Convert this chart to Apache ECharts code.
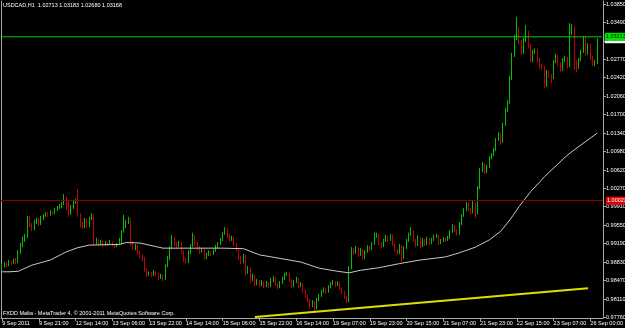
<!DOCTYPE html>
<html>
<head>
<meta charset="utf-8">
<script src="https://cdn.jsdelivr.net/npm/echarts@6/dist/echarts.min.js"></script>
<style>
html,body{margin:0;padding:0;background:#000;}
#main{width:625px;height:328px;}
</style>
</head>
<body>
<div id="main"></div>
<script>
// ---- data (USDCAD H1) ----
const titleText = 'USDCAD,H1  1.02713 1.03183 1.02680 1.03168';
const footerText = 'FXDD Malta - MetaTrader 4, \u00a9 2001-2011 MetaQuotes Software Corp.';

const xTickLabels = ['9 Sep 2011','9 Sep 21:00','12 Sep 14:00','13 Sep 06:00','13 Sep 22:00','14 Sep 14:00',
  '15 Sep 06:00','15 Sep 22:00','16 Sep 14:00','19 Sep 07:00','19 Sep 23:00','20 Sep 15:00',
  '21 Sep 07:00','21 Sep 23:00','22 Sep 15:00','23 Sep 07:00','26 Sep 00:00'];
const barsPerLabel = 16;
const emptySlots = 2;

const yTickValues = [1.0385,1.0349,1.0313,1.0277,1.0242,1.0206,1.0170,1.0134,1.0098,1.0062,
  1.0027,0.9991,0.9955,0.9919,0.9883,0.9847,0.9811,0.9776];

const openP = [
0.9871,0.9875,0.9879,0.9877,0.9883,0.9881,0.9885,0.9883,0.9903,0.9916,
0.9926,0.9934,0.9969,0.9955,0.9947,0.9961,0.9965,0.9957,0.9969,0.9973,
0.9976,0.9975,0.9980,0.9978,0.9984,0.9988,0.9992,0.9996,1.0008,1.0000,
0.9976,0.9990,0.9998,1.0002,0.9975,0.9957,0.9951,0.9965,0.9953,0.9967,
0.9973,0.9920,0.9926,0.9918,0.9922,0.9916,0.9920,0.9918,0.9922,0.9916,
0.9914,0.9918,0.9920,0.9941,0.9953,0.9961,0.9967,0.9920,0.9910,0.9914,
0.9903,0.9895,0.9891,0.9867,0.9860,0.9862,0.9858,0.9864,0.9860,0.9852,
0.9856,0.9850,0.9875,0.9891,0.9910,0.9930,0.9918,0.9914,0.9920,0.9903,
0.9887,0.9883,0.9903,0.9914,0.9934,0.9918,0.9910,0.9903,0.9906,0.9891,
0.9897,0.9903,0.9899,0.9904,0.9912,0.9918,0.9926,0.9938,0.9947,0.9934,
0.9926,0.9930,0.9918,0.9906,0.9891,0.9883,0.9895,0.9864,0.9871,0.9848,
0.9856,0.9840,0.9846,0.9838,0.9844,0.9836,0.9842,0.9836,0.9848,0.9852,
0.9840,0.9834,0.9842,0.9850,0.9858,0.9860,0.9848,0.9836,0.9844,0.9850,
0.9836,0.9840,0.9827,0.9817,0.9809,0.9797,0.9805,0.9793,0.9809,0.9817,
0.9825,0.9830,0.9825,0.9834,0.9840,0.9844,0.9838,0.9842,0.9832,0.9825,
0.9815,0.9807,0.9871,0.9908,0.9901,0.9910,0.9897,0.9906,0.9891,0.9903,
0.9912,0.9908,0.9918,0.9934,0.9936,0.9920,0.9914,0.9924,0.9932,0.9926,
0.9934,0.9918,0.9906,0.9901,0.9914,0.9891,0.9910,0.9924,0.9936,0.9943,
0.9926,0.9916,0.9930,0.9914,0.9926,0.9918,0.9928,0.9920,0.9926,0.9932,
0.9934,0.9920,0.9924,0.9928,0.9926,0.9930,0.9941,0.9953,0.9945,0.9938,
0.9957,0.9973,0.9984,0.9996,0.9986,0.9980,0.9998,0.9978,1.0027,1.0062,
1.0074,1.0058,1.0068,1.0085,1.0091,1.0101,1.0120,1.0132,1.0117,1.0150,
1.0179,1.0194,1.0241,1.0286,1.0319,1.0338,1.0311,1.0292,1.0315,1.0331,
1.0305,1.0276,1.0292,1.0296,1.0276,1.0264,1.0260,1.0226,1.0253,1.0245,
1.0241,1.0272,1.0284,1.0268,1.0257,1.0276,1.0280,1.0264,1.0329,1.0340,
1.0272,1.0260,1.0276,1.0292,1.0319,1.0288,1.0305,1.0280,1.0268,1.02713];

const closeP = [
0.9875,0.9879,0.9877,0.9883,0.9881,0.9885,0.9883,0.9903,0.9916,0.9926,
0.9934,0.9969,0.9955,0.9947,0.9961,0.9965,0.9957,0.9969,0.9973,0.9976,
0.9975,0.9980,0.9978,0.9984,0.9988,0.9992,0.9996,1.0008,1.0000,0.9976,
0.9990,0.9998,1.0002,0.9975,0.9957,0.9951,0.9965,0.9953,0.9967,0.9973,
0.9920,0.9926,0.9918,0.9922,0.9916,0.9920,0.9918,0.9922,0.9916,0.9914,
0.9918,0.9920,0.9941,0.9953,0.9961,0.9967,0.9920,0.9910,0.9914,0.9903,
0.9895,0.9891,0.9867,0.9860,0.9862,0.9858,0.9864,0.9860,0.9852,0.9856,
0.9850,0.9875,0.9891,0.9910,0.9930,0.9918,0.9914,0.9920,0.9903,0.9887,
0.9883,0.9903,0.9914,0.9934,0.9918,0.9910,0.9903,0.9906,0.9891,0.9897,
0.9903,0.9899,0.9904,0.9912,0.9918,0.9926,0.9938,0.9947,0.9934,0.9926,
0.9930,0.9918,0.9906,0.9891,0.9883,0.9895,0.9864,0.9871,0.9848,0.9856,
0.9840,0.9846,0.9838,0.9844,0.9836,0.9842,0.9836,0.9848,0.9852,0.9840,
0.9834,0.9842,0.9850,0.9858,0.9860,0.9848,0.9836,0.9844,0.9850,0.9836,
0.9840,0.9827,0.9817,0.9809,0.9797,0.9805,0.9793,0.9809,0.9817,0.9825,
0.9830,0.9825,0.9834,0.9840,0.9844,0.9838,0.9842,0.9832,0.9825,0.9815,
0.9807,0.9871,0.9908,0.9901,0.9910,0.9897,0.9906,0.9891,0.9903,0.9912,
0.9908,0.9918,0.9934,0.9936,0.9920,0.9914,0.9924,0.9932,0.9926,0.9934,
0.9918,0.9906,0.9901,0.9914,0.9891,0.9910,0.9924,0.9936,0.9943,0.9926,
0.9916,0.9930,0.9914,0.9926,0.9918,0.9928,0.9920,0.9926,0.9932,0.9934,
0.9920,0.9924,0.9928,0.9926,0.9930,0.9941,0.9953,0.9945,0.9938,0.9957,
0.9973,0.9984,0.9996,0.9986,0.9980,0.9998,0.9978,1.0027,1.0062,1.0074,
1.0058,1.0068,1.0085,1.0091,1.0101,1.0120,1.0132,1.0117,1.0150,1.0179,
1.0194,1.0241,1.0286,1.0319,1.0338,1.0311,1.0292,1.0315,1.0331,1.0305,
1.0276,1.0292,1.0296,1.0276,1.0264,1.0260,1.0226,1.0253,1.0245,1.0241,
1.0272,1.0284,1.0268,1.0257,1.0276,1.0280,1.0264,1.0329,1.0340,1.0272,
1.0260,1.0276,1.0292,1.0319,1.0288,1.0305,1.0280,1.0268,1.0270,1.03168];

const highP = [
0.9879,0.9883,0.9881,0.9887,0.9885,0.9889,0.9891,0.9906,0.9920,0.9932,
0.9938,0.9973,0.9973,0.9959,0.9965,0.9969,0.9969,0.9973,0.9976,0.9980,
0.9980,0.9984,0.9982,0.9988,0.9992,0.9996,1.0000,1.0015,1.0010,1.0004,
0.9994,1.0002,1.0006,1.0025,0.9978,0.9961,0.9969,0.9967,0.9971,0.9978,
0.9976,0.9930,0.9928,0.9926,0.9924,0.9924,0.9922,0.9926,0.9924,0.9918,
0.9920,0.9930,0.9945,0.9975,0.9965,0.9971,0.9969,0.9924,0.9918,0.9916,
0.9906,0.9899,0.9893,0.9871,0.9865,0.9864,0.9867,0.9865,0.9862,0.9860,
0.9858,0.9879,0.9895,0.9914,0.9936,0.9932,0.9922,0.9924,0.9922,0.9906,
0.9891,0.9906,0.9918,0.9940,0.9936,0.9922,0.9914,0.9910,0.9908,0.9901,
0.9906,0.9904,0.9908,0.9916,0.9922,0.9930,0.9941,0.9951,0.9949,0.9938,
0.9934,0.9932,0.9920,0.9908,0.9895,0.9899,0.9897,0.9875,0.9873,0.9860,
0.9858,0.9850,0.9848,0.9848,0.9846,0.9846,0.9844,0.9852,0.9856,0.9854,
0.9842,0.9846,0.9854,0.9862,0.9864,0.9862,0.9850,0.9848,0.9854,0.9852,
0.9844,0.9842,0.9829,0.9819,0.9811,0.9809,0.9807,0.9813,0.9821,0.9829,
0.9834,0.9832,0.9838,0.9844,0.9848,0.9846,0.9846,0.9844,0.9834,0.9827,
0.9817,0.9875,0.9912,0.9910,0.9914,0.9912,0.9910,0.9908,0.9906,0.9916,
0.9914,0.9922,0.9940,0.9940,0.9938,0.9922,0.9928,0.9936,0.9934,0.9938,
0.9936,0.9920,0.9908,0.9918,0.9916,0.9914,0.9928,0.9940,0.9951,0.9945,
0.9928,0.9934,0.9932,0.9930,0.9928,0.9932,0.9930,0.9930,0.9936,0.9938,
0.9936,0.9928,0.9932,0.9930,0.9934,0.9945,0.9957,0.9955,0.9947,0.9961,
0.9976,0.9988,1.0000,0.9998,0.9988,1.0002,1.0000,1.0031,1.0066,1.0078,
1.0076,1.0072,1.0089,1.0095,1.0105,1.0124,1.0136,1.0134,1.0154,1.0183,
1.0198,1.0245,1.0290,1.0325,1.0360,1.0340,1.0315,1.0319,1.0344,1.0333,
1.0307,1.0296,1.0299,1.0298,1.0280,1.0268,1.0264,1.0257,1.0255,1.0249,
1.0276,1.0288,1.0286,1.0272,1.0280,1.0284,1.0282,1.0348,1.0346,1.0342,
1.0276,1.0280,1.0296,1.0323,1.0321,1.0309,1.0307,1.0284,1.0276,1.03183];

const lowP = [
0.9867,0.9873,0.9873,0.9875,0.9877,0.9879,0.9879,0.9881,0.9899,0.9912,
0.9922,0.9930,0.9951,0.9943,0.9945,0.9957,0.9953,0.9955,0.9965,0.9971,
0.9971,0.9973,0.9975,0.9976,0.9982,0.9986,0.9988,0.9994,0.9984,0.9971,
0.9975,0.9986,0.9996,0.9971,0.9951,0.9947,0.9949,0.9949,0.9951,0.9965,
0.9916,0.9918,0.9914,0.9916,0.9912,0.9914,0.9914,0.9916,0.9914,0.9910,
0.9912,0.9916,0.9918,0.9940,0.9949,0.9957,0.9914,0.9906,0.9906,0.9899,
0.9891,0.9885,0.9864,0.9854,0.9856,0.9854,0.9856,0.9856,0.9848,0.9850,
0.9846,0.9848,0.9873,0.9887,0.9908,0.9914,0.9910,0.9912,0.9899,0.9883,
0.9879,0.9881,0.9899,0.9912,0.9914,0.9906,0.9899,0.9901,0.9887,0.9889,
0.9895,0.9895,0.9897,0.9903,0.9910,0.9916,0.9924,0.9936,0.9930,0.9922,
0.9924,0.9914,0.9903,0.9887,0.9879,0.9881,0.9858,0.9860,0.9842,0.9846,
0.9836,0.9838,0.9834,0.9836,0.9832,0.9834,0.9832,0.9834,0.9844,0.9836,
0.9830,0.9832,0.9840,0.9848,0.9856,0.9844,0.9832,0.9834,0.9842,0.9832,
0.9834,0.9823,0.9813,0.9805,0.9793,0.9795,0.9786,0.9791,0.9807,0.9815,
0.9823,0.9821,0.9823,0.9832,0.9838,0.9834,0.9836,0.9829,0.9821,0.9811,
0.9803,0.9805,0.9869,0.9897,0.9899,0.9893,0.9895,0.9887,0.9889,0.9901,
0.9904,0.9906,0.9916,0.9930,0.9916,0.9910,0.9912,0.9922,0.9922,0.9924,
0.9914,0.9903,0.9897,0.9899,0.9883,0.9889,0.9908,0.9922,0.9934,0.9922,
0.9912,0.9914,0.9910,0.9912,0.9914,0.9916,0.9916,0.9918,0.9924,0.9930,
0.9916,0.9918,0.9922,0.9922,0.9924,0.9928,0.9940,0.9941,0.9934,0.9936,
0.9955,0.9971,0.9982,0.9982,0.9976,0.9978,0.9969,0.9976,1.0025,1.0058,
1.0054,1.0056,1.0066,1.0083,1.0089,1.0099,1.0119,1.0111,1.0115,1.0148,
1.0175,1.0191,1.0237,1.0282,1.0315,1.0307,1.0286,1.0288,1.0311,1.0299,
1.0272,1.0272,1.0288,1.0272,1.0260,1.0257,1.0222,1.0224,1.0241,1.0231,
1.0239,1.0270,1.0264,1.0253,1.0255,1.0272,1.0260,1.0262,1.0325,1.0257,
1.0253,1.0259,1.0274,1.0290,1.0284,1.0286,1.0276,1.0264,1.0264,1.02680];

// moving average (sampled along the drawn curve)
const maIndex = [0,3,7,13,21,28,33,38,47,51,54,60,64,70,77,86,96,105,112,121,130,138,146,151,156,164,173,182,193,199,206,212,217,221,225,230,234,236,245,248,259];
const maValue = [0.9864,0.9864,0.9865,0.9877,0.9887,0.9903,0.9911,0.9916,0.9917,0.9917,0.9921,0.9920,0.9916,0.9910,0.9910,0.9910,0.9910,0.9909,0.9897,0.9890,0.9883,0.9871,0.9865,0.9862,0.9867,0.9872,0.9880,0.9887,0.9893,0.9901,0.9912,0.9926,0.9943,0.9965,0.9991,1.0020,1.0039,1.0049,1.0087,1.0098,1.0134];

// trend line
const trendIndex = [110, 255];
const trendValue = [0.9776, 0.9832];

// horizontal levels
const greenLevel = 1.03213;
const redLevel = 1.00023;
const bidPrice = 1.03166;

// ---- chart ----
const FONT = 'Liberation Sans';
const nBars = openP.length;
const nCats = nBars + emptySlots;
const cats = [];
for (let i = 0; i < nCats; i++) cats.push(String(i));
const candles = openP.map((o, i) => [o, closeP[i], lowP[i], highP[i]]);
const maData = maIndex.map((x, i) => [x, maValue[i]]);
const trendData = trendIndex.map((x, i) => [x, trendValue[i]]);
const showTick = (idx) => idx % barsPerLabel === 0 && (idx / barsPerLabel) < xTickLabels.length;
const axisGray = '#a8a8a8';
const yMin = 0.97741, yMax = 1.03910;
const fmt5 = (p) => Number(p.value).toFixed(5);

// a horizontal level drawn as a line series across the whole category range, with a price tag at the right
function levelSeries(value, lineColor, lineOpacity, tagBg, tagColor, z) {
  return {
    type: 'line', data: [[0, value], [nCats - 1, value]], showSymbol: false, symbol: 'none',
    z: z, silent: true,
    lineStyle: {color: lineColor, width: 1, opacity: lineOpacity},
    endLabel: {show: true, distance: 3, formatter: () => value.toFixed(5),
               backgroundColor: tagBg, color: tagColor, fontSize: 5.5, fontFamily: FONT,
               padding: [1, 1, 1, 1]}
  };
}

const chart = echarts.init(document.getElementById('main'), null, {renderer: 'canvas'});
chart.setOption({
  backgroundColor: '#000000',
  animation: false,
  textStyle: {fontFamily: FONT},
  title: [
    {text: titleText, left: 3, top: 2, padding: 0,
     textStyle: {color: '#ffffff', fontSize: 5.5, fontWeight: 'normal', fontFamily: FONT}},
    {text: footerText, left: 3, top: 310, padding: 0,
     textStyle: {color: '#ffffff', fontSize: 5.5, fontWeight: 'normal', fontFamily: FONT}}
  ],
  grid: {left: 1, right: 22, top: 1, bottom: 10, containLabel: false, outerBoundsMode: 'none'},
  xAxis: {
    type: 'category', data: cats, boundaryGap: true,
    axisLine: {show: true, lineStyle: {color: axisGray, width: 1}},
    axisTick: {show: true, alignWithLabel: true, interval: (idx) => showTick(idx), length: 3,
               lineStyle: {color: axisGray}},
    axisLabel: {show: true, interval: (idx) => showTick(idx),
                formatter: (v, idx) => xTickLabels[Math.round(idx / barsPerLabel)] || '',
                align: 'left', color: '#ffffff', fontSize: 5.5, fontFamily: FONT, margin: 2},
    splitLine: {show: false}
  },
  yAxis: [
    {type: 'value', position: 'right', min: yMin, max: yMax,
     axisLine: {show: true, lineStyle: {color: axisGray, width: 1}},
     axisTick: {show: true, customValues: yTickValues, length: 3, lineStyle: {color: axisGray}},
     axisLabel: {show: true, customValues: yTickValues, formatter: (v) => Number(v).toFixed(5),
                 color: '#ffffff', fontSize: 5.5, fontFamily: FONT, margin: 3},
     splitLine: {show: false}},
    {type: 'value', position: 'left', min: yMin, max: yMax,
     axisLine: {show: true, onZero: false, lineStyle: {color: axisGray, width: 1}},
     axisTick: {show: false}, axisLabel: {show: false}, splitLine: {show: false}}
  ],
  series: [
    {
      type: 'candlestick', data: candles, barWidth: 1.2, z: 2,
      itemStyle: {color: '#00c000', color0: '#c40000', borderColor: '#00c000', borderColor0: '#c40000', borderWidth: 1},
      markLine: {
        symbol: ['none', 'none'], silent: true, animation: false, precision: 5,
        data: [
          {yAxis: redLevel, lineStyle: {color: '#8b0000', width: 1, type: 'solid', opacity: 1},
           label: {show: true, position: 'end', distance: 3, formatter: fmt5,
                   backgroundColor: '#e00000', color: '#ffffff', fontSize: 5.5, fontFamily: FONT, padding: [1, 1, 1, 1]}}
        ]
      }
    },
    {type: 'line', data: maData, showSymbol: false, symbol: 'none', z: 3, silent: true,
     lineStyle: {color: '#c8c8c8', width: 1}},
    {type: 'line', data: trendData, showSymbol: false, symbol: 'none', z: 3, silent: true,
     lineStyle: {color: '#dede00', width: 2}},
    levelSeries(bidPrice, '#000000', 0, '#ffffff', '#000000', 4),
    levelSeries(greenLevel, '#00d000', 1, '#00e600', '#000000', 5)
  ]
});
</script>
</body>
</html>
